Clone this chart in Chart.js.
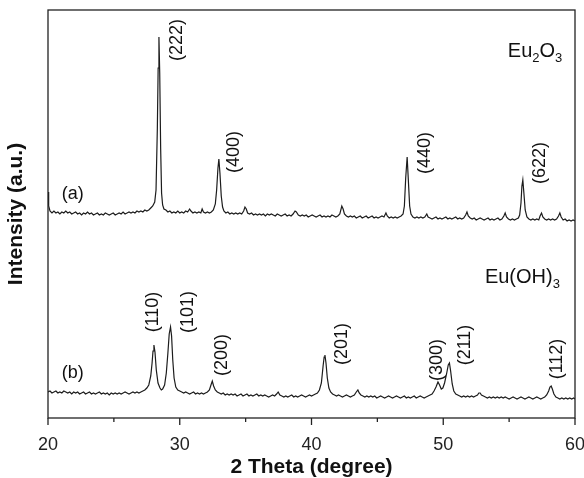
<!DOCTYPE html>
<html>
<head>
<meta charset="utf-8">
<script src="https://cdn.jsdelivr.net/npm/chart.js@4"></script>
<style>
  html, body { margin: 0; padding: 0; background: #fff; }
  #wrap { width: 584px; height: 478px; }
</style>
</head>
<body>
<div id="wrap"><canvas id="xrdChart" width="584" height="478"></canvas></div>
<script>
const FONT = '"Liberation Sans", Arial, Helvetica, sans-serif';

// x axis ticks (2 theta), labelled every 10 degrees
const xTicks = [20, 25, 30, 35, 40, 45, 50, 55, 60];

// (a) Eu2O3 pattern, [2theta, intensity a.u.]
const patternA = [
  [20.00,226],[20.05,212],[20.15,207],[20.3,205],[20.45,207],[20.6,205],[20.75,206],[20.9,204],
  [21.05,206],[21.2,205],[21.35,207],[21.5,205],[21.65,206],[21.8,204],[21.95,205],[22.1,206],
  [22.25,204],[22.4,205],[22.55,203],[22.7,205],[22.85,204],[23.0,206],[23.15,204],[23.3,205],
  [23.45,203],[23.6,204],[23.75,205],[23.9,203],[24.05,204],[24.2,203],[24.35,205],[24.5,204],
  [24.65,203],[24.8,204],[24.95,205],[25.1,203],[25.25,204],[25.4,205],[25.55,204],[25.7,206],
  [25.85,204],[26.0,205],[26.15,206],[26.3,205],[26.45,206],[26.6,205],[26.75,207],[26.9,206],
  [27.05,207],[27.2,206],[27.35,208],[27.5,207],[27.65,208],[27.8,210],[27.95,212],[28.1,216],
  [28.2,228],[28.3,290],[28.36,350],[28.42,381],[28.48,345],[28.55,270],[28.62,225],[28.7,213],
  [28.8,209],[28.95,208],[29.1,206],[29.25,207],[29.4,205],[29.55,206],[29.7,205],[29.85,207],
  [30.0,205],[30.15,206],[30.3,205],[30.45,207],[30.6,206],[30.75,209],[30.85,207],[31.0,205],
  [31.15,206],[31.3,205],[31.45,206],[31.6,205],[31.7,209],[31.8,206],[31.95,205],[32.1,206],
  [32.25,205],[32.4,206],[32.55,208],[32.7,214],[32.8,228],[32.9,250],[32.97,259],[33.05,245],
  [33.15,222],[33.25,211],[33.35,207],[33.5,205],[33.65,206],[33.8,204],[33.95,205],[34.1,204],
  [34.25,205],[34.4,204],[34.55,205],[34.7,204],[34.85,207],[34.95,211],[35.05,209],[35.15,205],
  [35.3,204],[35.45,205],[35.6,203],[35.75,204],[35.9,203],[36.05,204],[36.2,203],[36.35,204],
  [36.5,202],[36.65,204],[36.8,203],[36.95,204],[37.1,203],[37.25,202],[37.4,204],[37.55,203],
  [37.7,202],[37.85,203],[38.0,204],[38.15,202],[38.3,203],[38.45,202],[38.6,204],[38.75,207],
  [38.85,206],[39.0,203],[39.15,202],[39.3,203],[39.45,202],[39.6,203],[39.75,201],[39.9,202],
  [40.05,203],[40.2,202],[40.35,201],[40.5,202],[40.65,203],[40.8,201],[40.95,202],[41.1,201],
  [41.25,202],[41.4,201],[41.55,203],[41.7,202],[41.85,201],[42.0,202],[42.15,204],[42.3,212],
  [42.4,209],[42.5,204],[42.65,202],[42.8,201],[42.95,202],[43.1,201],[43.25,202],[43.4,200],
  [43.55,201],[43.7,202],[43.85,200],[44.0,201],[44.15,202],[44.3,200],[44.45,201],[44.6,202],
  [44.75,200],[44.9,201],[45.05,200],[45.2,201],[45.35,202],[45.5,201],[45.65,205],[45.75,202],
  [45.9,200],[46.05,201],[46.2,200],[46.35,201],[46.5,200],[46.65,201],[46.8,202],[46.95,204],
  [47.05,212],[47.15,240],[47.26,261],[47.35,238],[47.45,212],[47.55,204],[47.7,201],[47.85,200],
  [48.0,201],[48.15,200],[48.3,201],[48.45,200],[48.6,201],[48.75,204],[48.85,201],[49.0,200],
  [49.15,199],[49.3,200],[49.45,201],[49.6,199],[49.75,200],[49.9,199],[50.05,200],[50.2,201],
  [50.35,199],[50.5,200],[50.65,199],[50.8,200],[50.95,201],[51.1,199],[51.25,200],[51.4,199],
  [51.55,200],[51.7,203],[51.8,206],[51.9,202],[52.05,200],[52.2,199],[52.35,200],[52.5,198],
  [52.65,199],[52.8,200],[52.95,199],[53.1,198],[53.25,199],[53.4,200],[53.55,198],[53.7,199],
  [53.85,198],[54.0,199],[54.15,200],[54.3,198],[54.45,199],[54.6,202],[54.7,205],[54.8,201],
  [54.95,199],[55.1,198],[55.25,199],[55.4,198],[55.55,199],[55.7,200],[55.8,203],[55.9,215],
  [55.97,232],[56.04,238],[56.12,225],[56.22,208],[56.35,201],[56.5,199],[56.65,198],[56.8,199],
  [56.95,198],[57.1,199],[57.25,198],[57.35,202],[57.46,205],[57.56,201],[57.7,199],[57.85,198],
  [58.0,199],[58.15,198],[58.3,199],[58.45,198],[58.6,199],[58.75,202],[58.85,205],[58.95,201],
  [59.1,198],[59.25,199],[59.4,197],[59.55,198],[59.7,197],[59.85,198],[60.0,197]
];

// (b) Eu(OH)3 pattern
const patternB = [
  [20.0,26],[20.15,27],[20.3,25],[20.45,26],[20.6,27],[20.75,25],[20.9,26],[21.05,25],
  [21.2,27],[21.35,26],[21.5,25],[21.65,26],[21.8,24],[21.95,26],[22.1,25],[22.25,26],
  [22.4,24],[22.55,25],[22.7,26],[22.85,24],[23.0,25],[23.15,26],[23.3,24],[23.45,25],
  [23.6,24],[23.75,25],[23.9,26],[24.05,24],[24.2,25],[24.35,24],[24.5,25],[24.65,23],
  [24.8,25],[24.95,24],[25.1,25],[25.25,24],[25.4,25],[25.55,24],[25.7,25],[25.85,26],
  [26.0,25],[26.15,24],[26.3,25],[26.45,26],[26.6,25],[26.75,26],[26.9,25],[27.05,26],
  [27.2,27],[27.35,28],[27.5,30],[27.65,33],[27.8,42],[27.9,55],[27.97,67],[28.04,73],
  [28.12,66],[28.22,48],[28.35,35],[28.5,30],[28.6,28],[28.7,29],[28.85,33],[28.98,45],
  [29.1,65],[29.2,84],[29.3,91],[29.38,82],[29.47,58],[29.57,40],[29.7,31],[29.85,28],
  [30.0,27],[30.15,26],[30.3,25],[30.45,26],[30.6,25],[30.75,24],[30.9,25],[31.05,26],
  [31.2,24],[31.35,25],[31.5,24],[31.65,25],[31.8,24],[31.95,25],[32.1,26],[32.25,28],
  [32.37,33],[32.47,37],[32.57,32],[32.7,28],[32.85,26],[33.0,25],[33.15,24],[33.3,25],
  [33.45,23],[33.6,24],[33.75,23],[33.9,24],[34.05,23],[34.2,24],[34.35,22],[34.5,23],
  [34.65,24],[34.8,22],[34.95,23],[35.1,24],[35.25,22],[35.4,23],[35.55,22],[35.7,23],
  [35.85,24],[36.0,22],[36.15,23],[36.3,22],[36.45,23],[36.6,22],[36.75,21],[36.9,22],
  [37.05,23],[37.2,22],[37.35,24],[37.47,26],[37.6,23],[37.75,22],[37.9,21],[38.05,22],
  [38.2,21],[38.35,22],[38.5,23],[38.65,21],[38.8,22],[38.95,21],[39.1,22],[39.25,23],
  [39.4,22],[39.55,21],[39.7,22],[39.85,23],[40.0,22],[40.15,23],[40.3,24],[40.45,25],
  [40.6,28],[40.75,35],[40.88,52],[40.96,61],[41.02,63],[41.1,55],[41.2,40],[41.32,30],
  [41.45,26],[41.6,24],[41.75,23],[41.9,22],[42.05,23],[42.2,22],[42.35,21],[42.5,22],
  [42.65,23],[42.8,22],[42.95,21],[43.1,22],[43.25,23],[43.4,26],[43.52,28],[43.62,25],
  [43.75,23],[43.9,22],[44.05,21],[44.2,22],[44.35,21],[44.5,22],[44.65,21],[44.8,22],
  [44.95,20],[45.1,21],[45.25,22],[45.4,21],[45.55,20],[45.7,21],[45.85,22],[46.0,21],
  [46.15,20],[46.3,21],[46.45,22],[46.6,21],[46.75,20],[46.9,21],[47.05,22],[47.2,20],
  [47.35,21],[47.5,20],[47.65,21],[47.8,22],[47.95,20],[48.1,21],[48.25,22],[48.4,21],
  [48.55,20],[48.7,21],[48.85,22],[49.0,23],[49.15,24],[49.3,27],[49.45,31],[49.6,36],
  [49.72,33],[49.85,29],[49.97,30],[50.1,35],[50.25,44],[50.38,53],[50.47,55],[50.56,47],
  [50.68,34],[50.8,27],[50.95,24],[51.1,23],[51.25,22],[51.4,21],[51.55,22],[51.7,21],
  [51.85,22],[52.0,21],[52.15,22],[52.3,21],[52.45,22],[52.6,23],[52.7,25],[52.8,25],
  [52.9,23],[53.05,22],[53.2,21],[53.35,20],[53.5,21],[53.65,20],[53.8,21],[53.95,20],
  [54.1,21],[54.25,20],[54.4,21],[54.55,20],[54.7,21],[54.85,20],[55.0,19],[55.15,20],
  [55.3,21],[55.45,20],[55.6,19],[55.75,20],[55.9,21],[56.05,20],[56.2,19],[56.35,20],
  [56.5,21],[56.65,20],[56.8,19],[56.95,20],[57.1,21],[57.25,20],[57.4,19],[57.55,20],
  [57.7,21],[57.85,23],[58.0,27],[58.1,31],[58.19,32],[58.28,29],[58.4,24],[58.55,21],
  [58.7,20],[58.85,19],[59.0,20],[59.15,19],[59.3,20],[59.45,19],[59.6,20],[59.75,19],
  [59.9,20],[60.0,19]
];

// Miller index labels: [text, 2theta, intensity at label centre]
const peakLabels = [
  ['(222)', 29.77, 378], ['(400)', 34.10, 266], ['(440)', 48.60, 265], ['(622)', 57.33, 255],
  ['(110)', 27.95, 106], ['(101)', 30.61, 106], ['(200)', 33.19, 63], ['(201)', 42.30, 74],
  ['(300)', 49.51, 58], ['(211)', 51.64, 73], ['(112)', 58.63, 59]
];
const sampleLabels = [['(a)', 21.88, 224], ['(b)', 21.88, 45]];
// phase names: pieces [text, isSubscript], anchored at left baseline
const phaseLabels = [
  { parts: [['Eu', 0], ['2', 1], ['O', 0], ['3', 1]], theta: 54.9, h: 361 },
  { parts: [['Eu(OH)', 0], ['3', 1]], theta: 53.16, h: 135 }
];

const toXY = arr => arr.map(p => ({ x: p[0], y: p[1] }));

const decor = {
  id: 'decor',
  afterDraw(chart) {
    const { ctx, chartArea: a, scales: { x, y } } = chart;
    ctx.save();
    ctx.strokeStyle = '#222';
    ctx.lineWidth = 1.3;
    ctx.strokeRect(a.left, a.top, a.right - a.left, a.bottom - a.top);
    xTicks.forEach(v => {
      const px = x.getPixelForValue(v);
      ctx.beginPath();
      ctx.moveTo(px, a.bottom);
      ctx.lineTo(px, a.bottom + (v % 10 === 0 ? 7 : 4));
      ctx.stroke();
    });

    ctx.fillStyle = '#111';
    ctx.font = '18px ' + FONT;
    ctx.textAlign = 'center';
    ctx.textBaseline = 'middle';
    peakLabels.forEach(([t, th, h]) => {
      ctx.save();
      ctx.translate(x.getPixelForValue(th), y.getPixelForValue(h));
      ctx.rotate(-Math.PI / 2);
      ctx.fillText(t, 0, 0);
      ctx.restore();
    });
    sampleLabels.forEach(([t, th, h]) => {
      ctx.fillText(t, x.getPixelForValue(th), y.getPixelForValue(h));
    });

    ctx.textAlign = 'left';
    ctx.textBaseline = 'alphabetic';
    phaseLabels.forEach(lab => {
      let px = x.getPixelForValue(lab.theta);
      const py = y.getPixelForValue(lab.h);
      lab.parts.forEach(([t, sub]) => {
        ctx.font = (sub ? '13px ' : '20px ') + FONT;
        ctx.fillText(t, px, sub ? py + 5 : py);
        px += ctx.measureText(t).width;
      });
    });
    ctx.restore();
  }
};

new Chart(document.getElementById('xrdChart'), {
  type: 'line',
  data: {
    datasets: [
      { label: 'Eu2O3', data: toXY(patternA), borderColor: '#1c1c1c', borderWidth: 1.2, pointRadius: 0, tension: 0 },
      { label: 'Eu(OH)3', data: toXY(patternB), borderColor: '#1c1c1c', borderWidth: 1.2, pointRadius: 0, tension: 0 }
    ]
  },
  options: {
    responsive: false,
    animation: false,
    devicePixelRatio: 1,
    layout: { padding: { top: 10, right: 9, left: 0, bottom: 0 } },
    plugins: { legend: { display: false }, tooltip: { enabled: false } },
    scales: {
      x: {
        type: 'linear',
        min: 20,
        max: 60,
        afterBuildTicks: s => { s.ticks = xTicks.map(v => ({ value: v })); },
        afterFit: s => { s.height = 60; s.paddingLeft = 0; s.paddingRight = 0; },
        grid: { display: false, drawTicks: true, tickLength: 7 },
        border: { display: false },
        ticks: {
          padding: 9,
          color: '#222',
          font: { family: FONT, size: 18 },
          maxRotation: 0,
          autoSkip: false,
          callback: v => (v % 10 === 0 ? String(v) : '')
        },
        title: {
          display: true,
          text: '2 Theta (degree)',
          color: '#111',
          font: { family: FONT, size: 21, weight: 'bold' },
          padding: { top: 0, bottom: -2 }
        }
      },
      y: {
        min: 0,
        max: 408,
        afterFit: s => { s.width = 48; },
        grid: { display: false },
        border: { display: false },
        ticks: { display: false },
        title: {
          display: true,
          text: 'Intensity (a.u.)',
          color: '#111',
          font: { family: FONT, size: 21, weight: 'bold' },
          padding: { top: 4, bottom: 0 }
        }
      }
    }
  },
  plugins: [decor]
});
</script>
</body>
</html>
